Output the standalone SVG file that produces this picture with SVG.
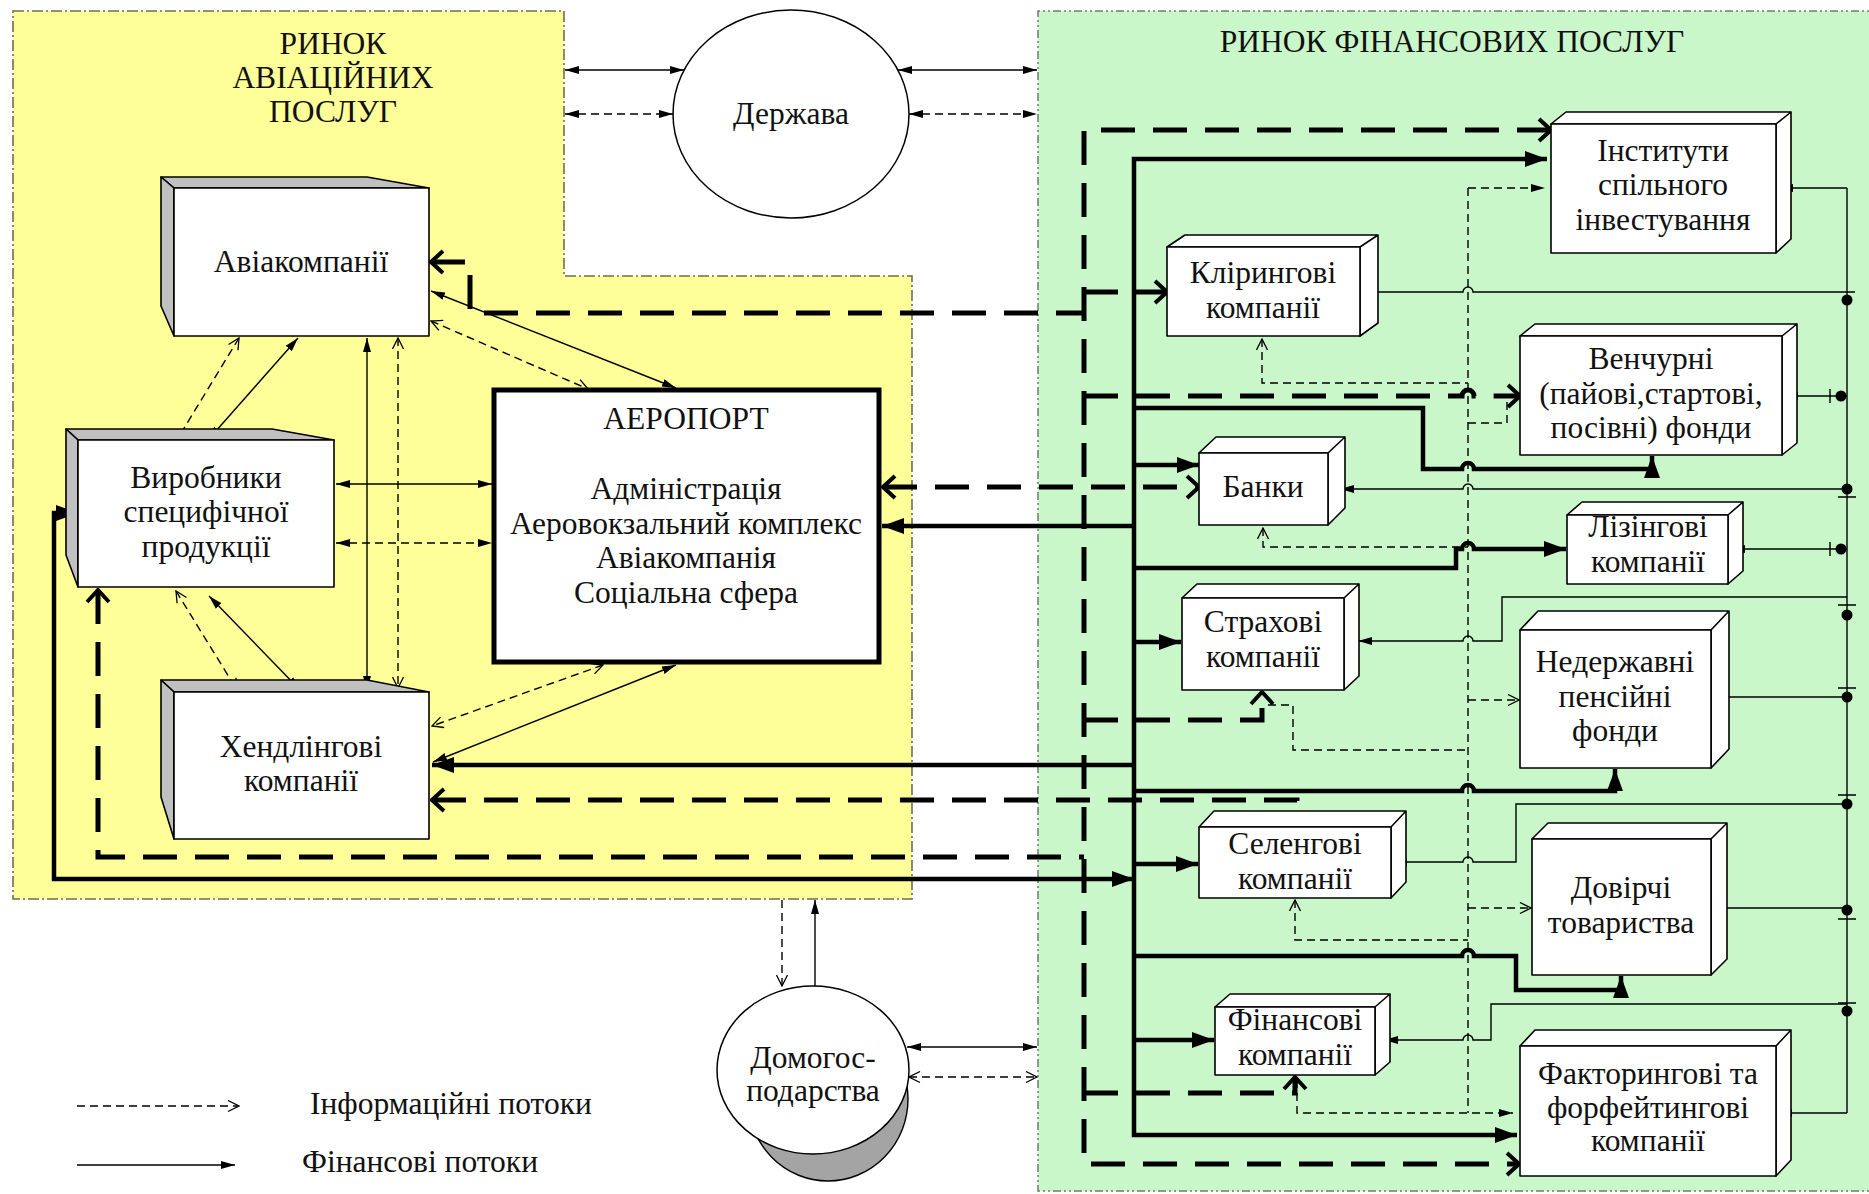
<svg xmlns="http://www.w3.org/2000/svg" width="1869" height="1194" viewBox="0 0 1869 1194">
<style>
.t{font-family:"Liberation Serif","Times New Roman",serif;font-size:31.5px;text-anchor:middle;fill:#111}
.ts{font-family:"Liberation Serif","Times New Roman",serif;font-size:31.5px;fill:#111}
.ln{fill:none;stroke:#000;stroke-width:1.4}
.dl{fill:none;stroke:#000;stroke-width:1.4;stroke-dasharray:8 5}
.tk{fill:none;stroke:#000;stroke-width:4.5}
.td{fill:none;stroke:#000;stroke-width:5;stroke-dasharray:34 18}
.face{fill:#fff;stroke:#000;stroke-width:1.6;stroke-linejoin:round}
.shade{fill:#c0c0c0;stroke:#000;stroke-width:1.6;stroke-linejoin:round}
.dot{fill:#000}
</style>
<defs>
<marker id="fs" viewBox="0 0 14 10" refX="14" refY="5" markerWidth="14" markerHeight="10" markerUnits="userSpaceOnUse" orient="auto-start-reverse"><path d="M0,1 L14,5 L0,9 z" fill="#000"/></marker>
<marker id="os" viewBox="0 0 13 13" refX="12" refY="6.5" markerWidth="13" markerHeight="13" markerUnits="userSpaceOnUse" orient="auto-start-reverse"><path d="M1,1 L12,6.5 L1,12" fill="none" stroke="#000" stroke-width="1.3"/></marker>
<marker id="fb" viewBox="0 0 22 16" refX="22" refY="8" markerWidth="22" markerHeight="16" markerUnits="userSpaceOnUse" orient="auto-start-reverse"><path d="M0,0 L22,8 L0,16 z" fill="#000"/></marker>
<marker id="ob" viewBox="0 0 16 26" refX="14" refY="13" markerWidth="16" markerHeight="26" markerUnits="userSpaceOnUse" orient="auto-start-reverse"><path d="M2,2 L14,13 L2,24" fill="none" stroke="#000" stroke-width="4"/></marker>
</defs>
<rect width="1869" height="1194" fill="#fff"/>
<g id="region-aviation">
<path d="M13,11 L564,11 L564,276 L912,276 L912,899 L13,899 Z" fill="#ffff99" stroke="#6e6e50" stroke-width="1.6" stroke-dasharray="11 3 2 3"/>
<text class="t" x="333" y="54">РИНОК</text>
<text class="t" x="333" y="88">АВІАЦІЙНИХ</text>
<text class="t" x="333" y="122">ПОСЛУГ</text>
</g>
<g id="region-finance">
<path d="M1880,11 L1038,11 L1038,1191 L1880,1191" fill="#c9f7c9" stroke="#6a806a" stroke-width="1.5" stroke-dasharray="8 3 2 3 2 3"/>
<text class="t" x="1452" y="52">РИНОК ФІНАНСОВИХ ПОСЛУГ</text>
</g>
<g id="connectors">
<path class="ln" d="M565,70 L684,70" marker-start="url(#fs)" marker-end="url(#fs)"/>
<path class="dl" d="M565,114 L673,114" marker-start="url(#fs)" marker-end="url(#fs)"/>
<path class="ln" d="M898,70 L1037,70" marker-start="url(#fs)" marker-end="url(#fs)"/>
<path class="dl" d="M909,114 L1037,114" marker-start="url(#fs)" marker-end="url(#fs)"/>
<path class="dl" d="M239,338 L175,443" marker-start="url(#os)" marker-end="url(#os)"/>
<path class="ln" d="M298,338 L208,440" marker-start="url(#fs)" marker-end="url(#fs)"/>
<path class="ln" d="M367,338 L367,690" marker-start="url(#fs)" marker-end="url(#fs)"/>
<path class="dl" d="M398,338 L398,688" marker-start="url(#os)" marker-end="url(#os)"/>
<path class="ln" d="M431,291 L676,388" marker-start="url(#fs)" marker-end="url(#fs)"/>
<path class="dl" d="M431,321 L588,389" marker-start="url(#os)" marker-end="url(#os)"/>
<path class="ln" d="M336,484 L492,484" marker-start="url(#fs)" marker-end="url(#fs)"/>
<path class="dl" d="M336,543 L492,543" marker-start="url(#fs)" marker-end="url(#fs)"/>
<path class="dl" d="M176,591 L237,690" marker-start="url(#os)" marker-end="url(#os)"/>
<path class="ln" d="M209,596 L300,690" marker-start="url(#fs)" marker-end="url(#fs)"/>
<path class="dl" d="M603,665 L432,726" marker-start="url(#os)" marker-end="url(#os)"/>
<path class="ln" d="M676,665 L433,762" marker-start="url(#fs)" marker-end="url(#fs)"/>
<path class="dl" d="M782,900 L782,986" marker-end="url(#os)"/>
<path class="ln" d="M815,986 L815,900" marker-end="url(#fs)"/>
<path class="ln" d="M907,1047 L1037,1047" marker-start="url(#fs)" marker-end="url(#fs)"/>
<path class="dl" d="M909,1077 L1037,1077" marker-start="url(#os)" marker-end="url(#os)"/>
<path class="tk" d="M1547,159 L1134,159 L1134,1135 L1517,1135" marker-start="url(#fb)" marker-end="url(#fb)"/>
<path class="td" d="M1551,130 L1084,130 L1084,1164 L1519,1164" marker-start="url(#ob)" marker-end="url(#ob)"/>
<path class="td" d="M431,262 L470,262 L470,313 L1084,313" marker-start="url(#ob)"/>
<path class="td" d="M1084,292 L1167,292" marker-end="url(#ob)"/>
<path class="td" d="M1084,396 L1462,396 A6,6 0 0 1 1474,396 L1520,396" marker-end="url(#ob)"/>
<path class="tk" d="M1134,408 L1423,408 L1423,469 L1462,469 A6,6 0 0 1 1474,469 L1652,469 L1652,456" marker-end="url(#fb)"/>
<path class="tk" d="M1134,465 L1199,465" marker-end="url(#fb)"/>
<path class="td" d="M883,487 L1199,487" marker-start="url(#ob)" marker-end="url(#ob)"/>
<path class="tk" d="M1134,526 L882,526" marker-end="url(#fb)"/>
<path class="tk" d="M1134,568 L1456,568 L1456,549 L1462,549 A6,6 0 0 1 1474,549 L1566,549" marker-end="url(#fb)"/>
<path class="tk" d="M1134,642 L1181,642" marker-end="url(#fb)"/>
<path class="td" d="M1084,720 L1262,720 L1262,692" marker-end="url(#ob)"/>
<path class="tk" d="M1134,765 L432,765" marker-end="url(#fb)"/>
<path class="tk" d="M1134,791 L1462,791 A6,6 0 0 1 1474,791 L1615,791 L1615,769" marker-end="url(#fb)"/>
<path class="td" d="M432,800 L1297,800 L1297,826" marker-start="url(#ob)" marker-end="url(#ob)"/>
<path class="td" d="M98,590 L98,857 L1084,857" marker-start="url(#ob)"/>
<path class="tk" d="M1134,864 L1198,864" marker-end="url(#fb)"/>
<path class="tk" d="M78,513 L54,513 L54,879 L1134,879" marker-start="url(#fb)" marker-end="url(#fb)"/>
<path class="tk" d="M1134,956 L1462,956 A6,6 0 0 1 1474,956 L1516,956 L1516,990 L1621,990 L1621,976" marker-end="url(#fb)"/>
<path class="tk" d="M1134,1040 L1214,1040" marker-end="url(#fb)"/>
<path class="td" d="M1084,1093 L1295,1093 L1295,1077" marker-end="url(#ob)"/>
<path class="ln" d="M1847,188 L1847,1113"/>
<path class="ln" d="M1847,188 L1779,188" marker-end="url(#fs)"/>
<path class="ln" d="M1855,292 L1473,292 A5,5 0 0 0 1463,292 L1362,292" marker-end="url(#fs)"/>
<path class="ln" d="M1847,396 L1784,396" marker-end="url(#fs)"/>
<path class="ln" d="M1847,489 L1473,489 A5,5 0 0 0 1463,489 L1340,489" marker-end="url(#fs)"/>
<path class="ln" d="M1847,549 L1731,549" marker-end="url(#fs)"/>
<path class="ln" d="M1847,597 L1502,597 L1502,641 L1473,641 A5,5 0 0 0 1463,641 L1358,641" marker-end="url(#fs)"/>
<path class="ln" d="M1847,697 L1713,697" marker-end="url(#fs)"/>
<path class="ln" d="M1847,804 L1516,804 L1516,862 L1473,862 A5,5 0 0 0 1463,862 L1393,862" marker-end="url(#fs)"/>
<path class="ln" d="M1847,908 L1713,908" marker-end="url(#fs)"/>
<path class="ln" d="M1847,1004 L1491,1004 L1491,1040 L1473,1040 A5,5 0 0 0 1463,1040 L1384,1040" marker-end="url(#fs)"/>
<path class="ln" d="M1847,1113 L1778,1113" marker-end="url(#fs)"/>
<g class="dot">
<circle cx="1847" cy="300" r="5.5"/><circle cx="1841" cy="396" r="5.5"/><circle cx="1847" cy="489" r="5.5"/><circle cx="1841" cy="549" r="5.5"/><circle cx="1847" cy="615" r="5.5"/><circle cx="1847" cy="697" r="5.5"/><circle cx="1847" cy="804" r="5.5"/><circle cx="1847" cy="910" r="5.5"/><circle cx="1847" cy="1011" r="5.5"/>
</g>
<path class="ln" d="M1838,497 H1856 M1838,605 H1856 M1838,688 H1856 M1838,795 H1856 M1838,919 H1856 M1838,1003 H1856 M1830,389 V403 M1830,542 V556"/>
<path class="dl" d="M1468,188 L1468,1113"/>
<path class="dl" d="M1468,188 L1545,188" marker-end="url(#fs)"/>
<path class="dl" d="M1262,339 L1262,383 L1468,383" marker-start="url(#os)"/>
<path class="dl" d="M1468,423 L1507,423 L1507,398"/>
<path class="dl" d="M1263,528 L1263,547 L1468,547" marker-start="url(#os)"/>
<path class="dl" d="M1268,705 L1293,705 L1293,750 L1468,750"/>
<path class="dl" d="M1468,700 L1519,700" marker-end="url(#os)"/>
<path class="dl" d="M1295,900 L1295,940 L1468,940" marker-start="url(#os)"/>
<path class="dl" d="M1468,908 L1531,908" marker-end="url(#os)"/>
<path class="dl" d="M1297,1080 L1297,1113 L1513,1113" marker-end="url(#fs)"/>
</g>
<g id="node-derzhava">
<ellipse cx="791" cy="114" rx="118" ry="104" fill="#fff" stroke="#000" stroke-width="1.5"/>
<text class="t" x="791" y="124">Держава</text>
</g>
<g id="node-aviakompanii">
<path class="shade" d="M161,177 L367,177 L429,188 L174,188 Z"/>
<path class="shade" d="M161,177 L174,188 L174,336 L161,306 Z"/>
<rect class="face" x="174" y="188" width="255" height="148"/>
<text class="t" x="301" y="272">Авіакомпанії</text>
</g>
<g id="node-vyrobnyky">
<path class="shade" d="M66,429 L272,429 L334,440 L78,440 Z"/>
<path class="shade" d="M66,429 L78,440 L78,587 L66,555 Z"/>
<rect class="face" x="78" y="440" width="256" height="147"/>
<text class="t" x="206" y="488">Виробники</text>
<text class="t" x="206" y="522">специфічної</text>
<text class="t" x="206" y="557">продукції</text>
</g>
<g id="node-handling">
<path class="shade" d="M161,680 L367,680 L429,692 L174,692 Z"/>
<path class="shade" d="M161,680 L174,692 L174,839 L161,797 Z"/>
<rect class="face" x="174" y="692" width="255" height="147"/>
<text class="t" x="301" y="757">Хендлінгові</text>
<text class="t" x="301" y="791">компанії</text>
</g>
<g id="node-airport">
<rect x="494" y="390" width="385" height="272" fill="#fff" stroke="#000" stroke-width="5"/>
<text class="t" x="686" y="429">АЕРОПОРТ</text>
<text class="t" x="686" y="499">Адміністрація</text>
<text class="t" x="686" y="534">Аеровокзальний комплекс</text>
<text class="t" x="686" y="568">Авіакомпанія</text>
<text class="t" x="686" y="603">Соціальна сфера</text>
</g>
<g id="node-households">
<ellipse cx="828" cy="1099" rx="80" ry="82" fill="#a4a4a4" stroke="#000" stroke-width="1.4"/>
<ellipse cx="813" cy="1070" rx="96" ry="84" fill="#fff" stroke="#000" stroke-width="1.5"/>
<text class="t" x="813" y="1068">Домогос-</text>
<text class="t" x="813" y="1101">подарства</text>
</g>
<g id="node-instytuty">
<path class="face" d="M1551,124 L1566,112 L1791,112 L1776,124 Z M1776,124 L1791,112 L1791,239 L1776,253 Z"/>
<rect class="face" x="1551" y="124" width="225" height="129"/>
<text class="t" x="1663" y="161">Інститути</text>
<text class="t" x="1663" y="195">спільного</text>
<text class="t" x="1663" y="230">інвестування</text>
</g>
<g id="node-kliring">
<path class="face" d="M1167,247 L1185,235 L1378,235 L1360,247 Z M1360,247 L1378,235 L1378,323 L1360,336 Z"/>
<rect class="face" x="1167" y="247" width="193" height="89"/>
<text class="t" x="1263" y="283">Клірингові</text>
<text class="t" x="1263" y="318">компанії</text>
</g>
<g id="node-venchurni">
<path class="face" d="M1520,336 L1535,324 L1797,324 L1782,336 Z M1782,336 L1797,324 L1797,443 L1782,455 Z"/>
<rect class="face" x="1520" y="336" width="262" height="119"/>
<text class="t" x="1651" y="369">Венчурні</text>
<text class="t" x="1651" y="404">(пайові,стартові,</text>
<text class="t" x="1651" y="438">посівні) фонди</text>
</g>
<g id="node-banky">
<path class="face" d="M1199,453 L1216,437 L1345,437 L1328,453 Z M1328,453 L1345,437 L1345,508 L1328,525 Z"/>
<rect class="face" x="1199" y="453" width="129" height="72"/>
<text class="t" x="1263" y="497">Банки</text>
</g>
<g id="node-lizing">
<path class="face" d="M1567,515 L1582,502 L1743,502 L1728,515 Z M1728,515 L1743,502 L1743,571 L1728,584 Z"/>
<rect class="face" x="1567" y="515" width="161" height="69"/>
<text class="t" x="1648" y="537">Лізінгові</text>
<text class="t" x="1648" y="572">компанії</text>
</g>
<g id="node-strakhovi">
<path class="face" d="M1182,598 L1197,584 L1359,584 L1344,598 Z M1344,598 L1359,584 L1359,676 L1344,690 Z"/>
<rect class="face" x="1182" y="598" width="162" height="92"/>
<text class="t" x="1263" y="632">Страхові</text>
<text class="t" x="1263" y="667">компанії</text>
</g>
<g id="node-nederzhavni">
<path class="face" d="M1520,630 L1538,611 L1729,611 L1711,630 Z M1711,630 L1729,611 L1729,749 L1711,768 Z"/>
<rect class="face" x="1520" y="630" width="191" height="138"/>
<text class="t" x="1615" y="672">Недержавні</text>
<text class="t" x="1615" y="707">пенсійні</text>
<text class="t" x="1615" y="741">фонди</text>
</g>
<g id="node-selengovi">
<path class="face" d="M1199,827 L1214,811 L1406,811 L1391,827 Z M1391,827 L1406,811 L1406,882 L1391,898 Z"/>
<rect class="face" x="1199" y="827" width="192" height="71"/>
<text class="t" x="1295" y="854">Селенгові</text>
<text class="t" x="1295" y="889">компанії</text>
</g>
<g id="node-dovirchi">
<path class="face" d="M1532,839 L1548,823 L1727,823 L1711,839 Z M1711,839 L1727,823 L1727,959 L1711,975 Z"/>
<rect class="face" x="1532" y="839" width="179" height="136"/>
<text class="t" x="1621" y="898">Довірчі</text>
<text class="t" x="1621" y="933">товариства</text>
</g>
<g id="node-finansovi">
<path class="face" d="M1215,1007 L1230,994 L1390,994 L1375,1007 Z M1375,1007 L1390,994 L1390,1062 L1375,1075 Z"/>
<rect class="face" x="1215" y="1007" width="160" height="68"/>
<text class="t" x="1295" y="1030">Фінансові</text>
<text class="t" x="1295" y="1065">компанії</text>
</g>
<g id="node-faktoryng">
<path class="face" d="M1520,1046 L1535,1030 L1791,1030 L1776,1046 Z M1776,1046 L1791,1030 L1791,1160 L1776,1176 Z"/>
<rect class="face" x="1520" y="1046" width="256" height="130"/>
<text class="t" x="1648" y="1084">Факторингові та</text>
<text class="t" x="1648" y="1118">форфейтингові</text>
<text class="t" x="1648" y="1151">компанії</text>
</g>
<g id="legend">
<path class="dl" d="M77,1106 L239,1106" marker-end="url(#os)"/>
<path class="ln" d="M77,1165 L235,1165" marker-end="url(#fs)"/>
<text class="ts" x="310" y="1114">Інформаційні потоки</text>
<text class="ts" x="302" y="1172">Фінансові потоки</text>
</g>
</svg>
